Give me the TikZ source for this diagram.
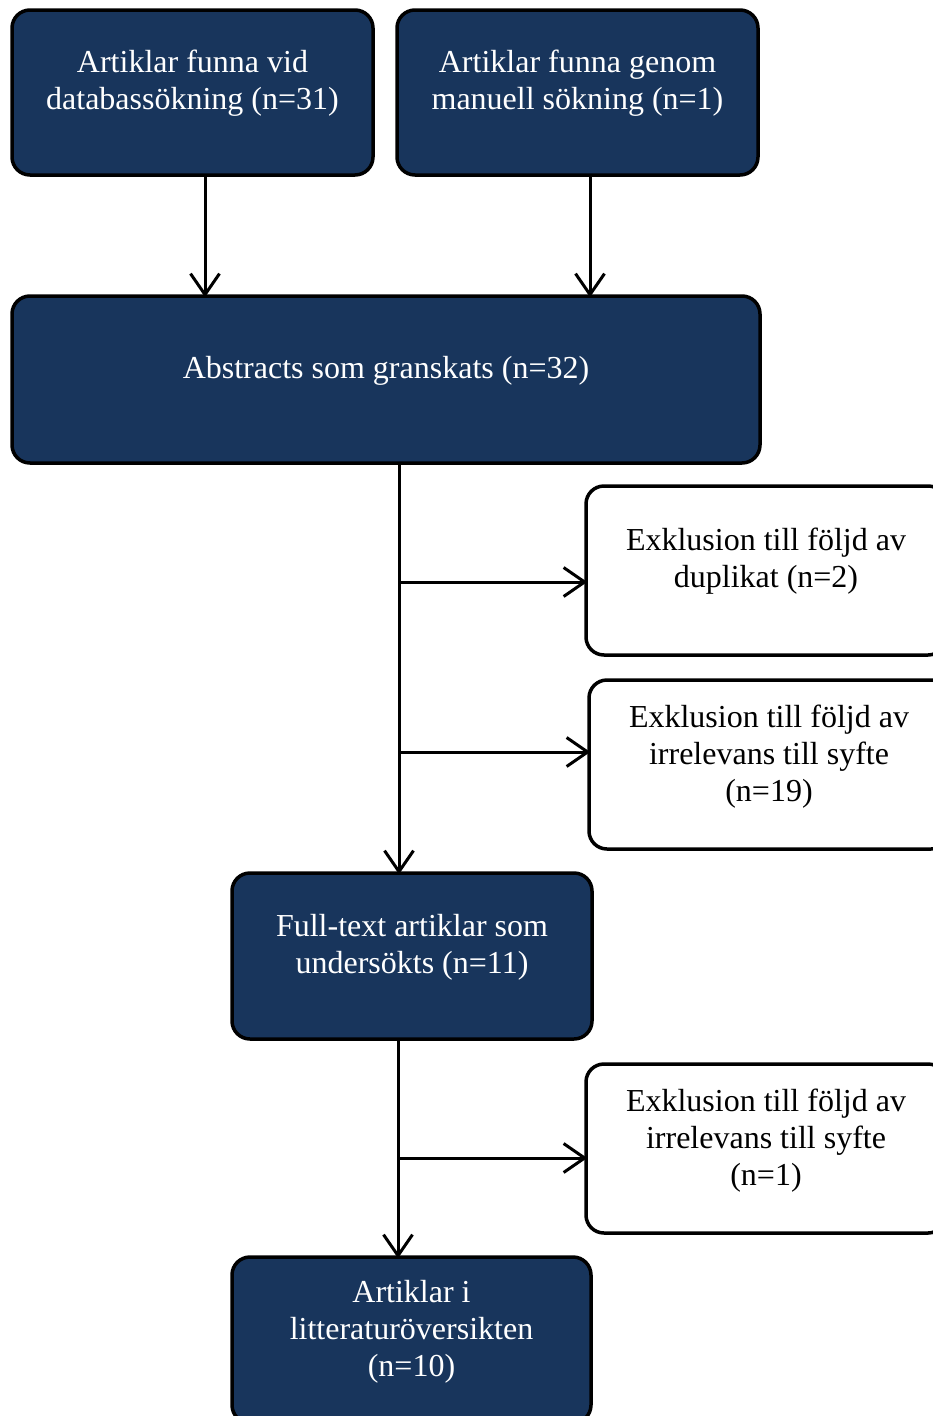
\documentclass[tikz,border=0pt]{standalone}
\usepackage{fontspec}
\setmainfont{Liberation Serif}
\usetikzlibrary{arrows.meta}
\definecolor{navy}{HTML}{18355C}
\tikzset{
  darkbox/.style={draw=black, line width=3.5pt, fill=navy, rounded corners=18pt, minimum width=#1, inner sep=0pt},
  whitebox/.style={draw=black, line width=3.5pt, fill=white, rounded corners=18pt, minimum width=360pt, minimum height=169pt, inner sep=0pt},
  wtxt/.style={text=white, align=center, font=\fontsize{32}{37}\selectfont, inner sep=0pt},
  btxt/.style={text=black, align=center, font=\fontsize{32}{37}\selectfont, inner sep=0pt},
  conn/.style={line width=3pt, shorten >=-3pt, -{Straight Barb[length=21pt,width=29pt,line width=3pt]}},
}
\begin{document}
\begin{tikzpicture}[x=1pt,y=-1pt]
\useasboundingbox (0,0) rectangle (933,1416);
\clip (0,0) rectangle (933,1416);
% boxes
\node[darkbox=361pt, minimum height=165pt] (a) at (192.5,92.5) {};
\node[darkbox=361pt, minimum height=165pt] (b) at (577.5,92.5) {};
\node[darkbox=748pt, minimum height=167pt] (abs) at (386,379.5) {};
\node[whitebox] (e1) at (766,570.5) {};
\node[whitebox] (e2) at (769,764.5) {};
\node[darkbox=360pt, minimum height=166pt] (ft) at (412,956) {};
\node[whitebox] (e3) at (766,1148.5) {};
\node[darkbox=359pt, minimum height=166pt] (fin) at (411.5,1340) {};
% texts
\node[wtxt] at ([yshift=9pt]a.center) {Artiklar funna vid\\databassökning (n=31)};
\node[wtxt] at ([yshift=9pt]b.center) {Artiklar funna genom\\manuell sökning (n=1)};
\node[wtxt] at ([yshift=9pt]abs.center) {Abstracts som granskats (n=32)};
\node[btxt] at ([yshift=9pt]e1.center) {Exklusion till följd av\\duplikat (n=2)};
\node[btxt] at ([yshift=8pt]e2.center) {Exklusion till följd av\\irrelevans till syfte\\(n=19)};
\node[wtxt] at ([yshift=9pt]ft.center) {Full-text artiklar som\\undersökts (n=11)};
\node[btxt] at ([yshift=8pt]e3.center) {Exklusion till följd av\\irrelevans till syfte\\(n=1)};
\node[wtxt] at ([yshift=8pt]fin.center) {Artiklar i\\litteraturöversikten\\(n=10)};
% connectors
\draw[conn] (a.south -| 205,0) -- (abs.north -| 205,0);
\draw[conn] (b.south -| 590,0) -- (abs.north -| 590,0);
\draw[conn] (abs.south -| 399,0) -- (ft.north -| 399,0);
\coordinate (j1) at (399,582);
\coordinate (j2) at (399,752);
\draw[conn] (j1) -- (e1.west |- j1);
\draw[conn] (j2) -- (e2.west |- j2);
\draw[conn] (ft.south -| 398,0) -- (fin.north -| 398,0);
\coordinate (j3) at (397,1158);
\draw[conn] (j3) -- (e3.west |- j3);
\end{tikzpicture}
\end{document}
